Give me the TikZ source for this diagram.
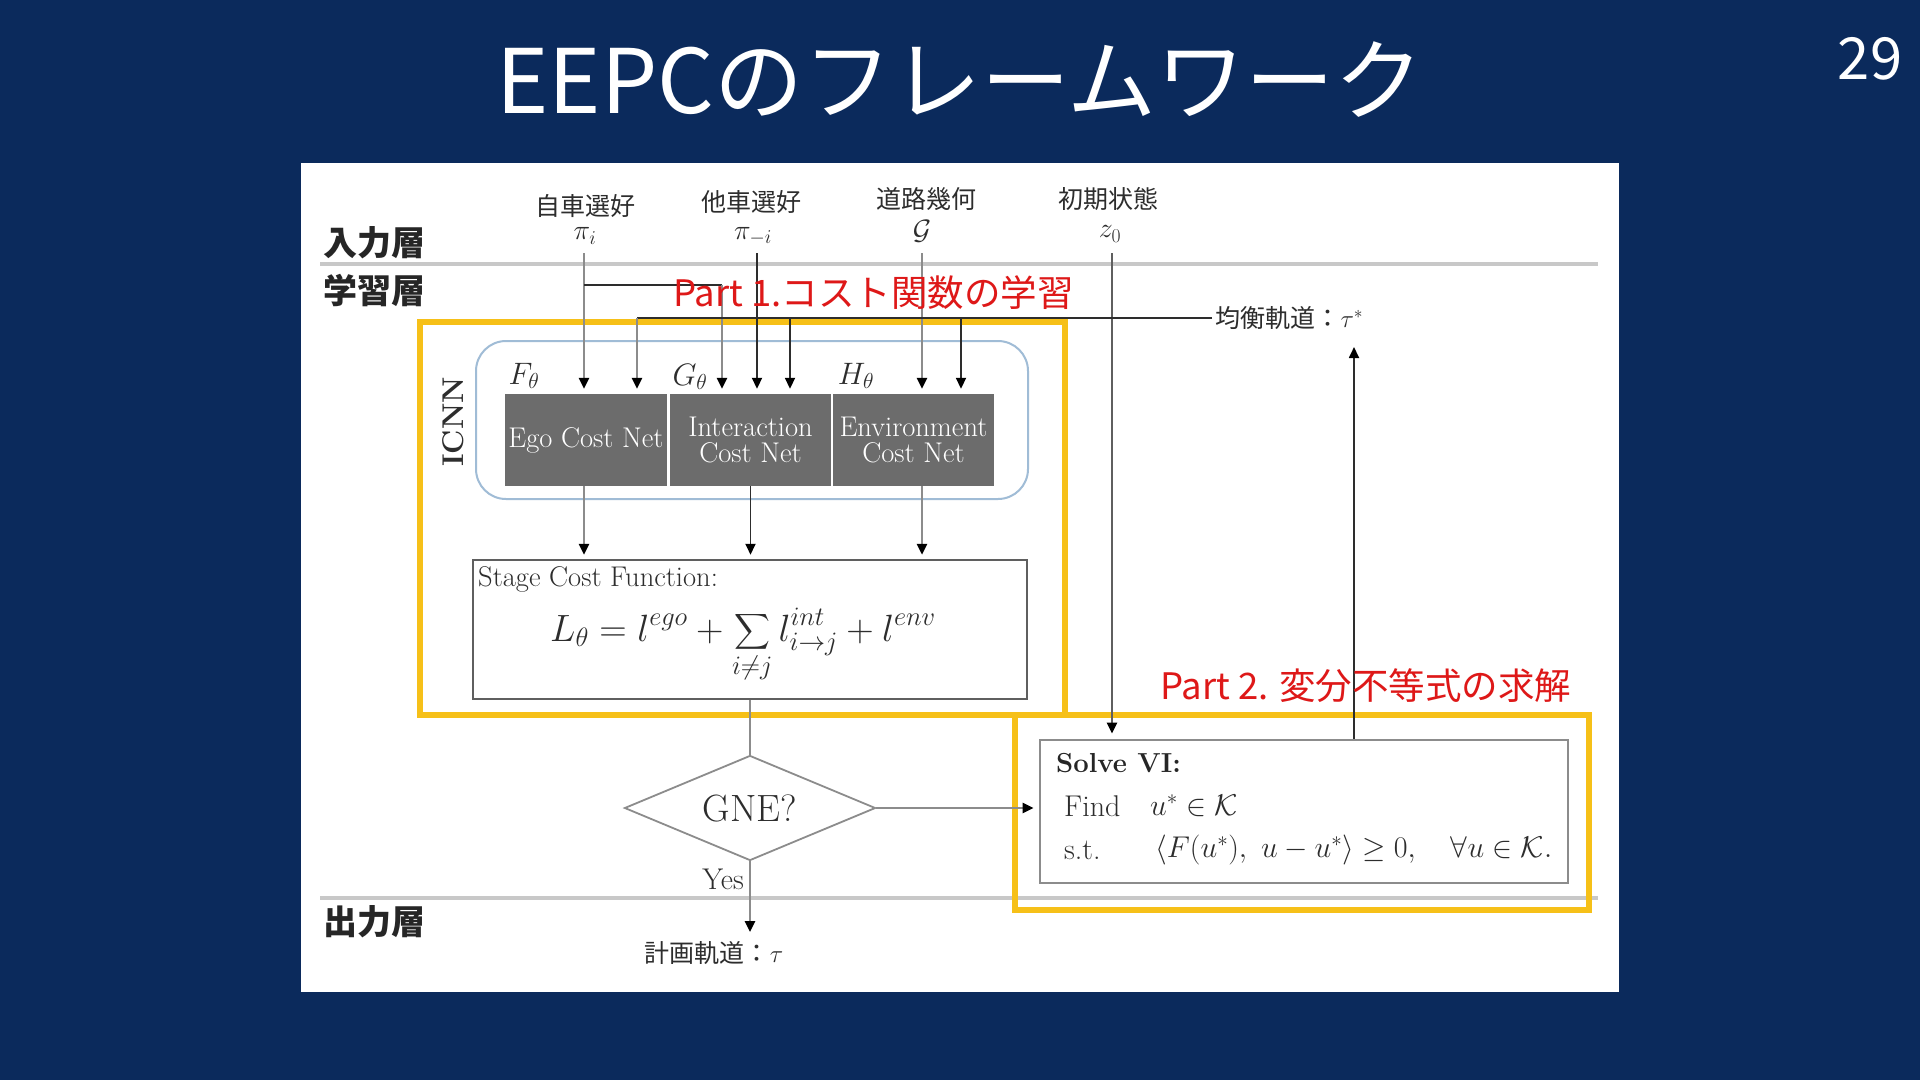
\RequirePackage{fix-cm}
\documentclass[tikz,border=0pt]{standalone}
\usepackage{amsmath}
\usepackage{fontspec}
\newfontfamily\jp{Noto Sans CJK JP}
\usetikzlibrary{arrows.meta,shapes.geometric}
\definecolor{navy}{RGB}{11,42,92}
\definecolor{gold}{RGB}{246,192,24}
\definecolor{redt}{RGB}{222,24,24}
\definecolor{boxgray}{RGB}{108,108,108}
\definecolor{lgray}{RGB}{140,140,140}
\definecolor{mgray}{RGB}{95,95,95}
\definecolor{dgray}{RGB}{45,45,45}
\definecolor{sepgray}{RGB}{200,200,200}
\definecolor{icblue}{RGB}{160,188,214}
\begin{document}
\begin{tikzpicture}[x=1pt,y=-1pt,
  gline/.style={draw=lgray,line width=2.6pt},
  dline/.style={draw=dgray,line width=1.8pt},
  mline/.style={draw=mgray,line width=2.2pt},
  arr/.style={-{Triangle[length=11pt,width=10pt,color=black]},shorten >=5pt},
  net/.style={fill=boxgray,text=white,minimum height=92pt,inner sep=0pt,align=center,font=\fontsize{28.5}{26}\selectfont},
  jlab/.style={font=\jp\fontsize{25}{28}\selectfont,text=dgray},
  mlab/.style={font=\fontsize{28}{28}\selectfont,text=dgray,inner sep=0pt},
  layer/.style={font=\jp\bfseries\fontsize{34}{36}\selectfont,text=black!85,anchor=west},
  redlab/.style={font=\jp\fontsize{36.5}{40}\selectfont,text=redt},
  hl/.style={draw=gold,line width=6pt},
  sep/.style={draw=sepgray,line width=4pt},
  txt/.style={inner sep=0pt,text=dgray}
]
% background and panel
\fill[navy] (0,0) rectangle (1920,1080);
\fill[white] (301,163) rectangle (1619,992);

% title and page number
\node[text=white,font=\jp\fontsize{89}{100}\selectfont] (title) at (960,80) {EEPCのフレームワーク};
\node[text=white,font=\jp\fontsize{58}{60}\selectfont] (pnum) at (1870,59) {29};

% layer labels and separators
\node[layer] (lay1) at (320,243) {入力層};
\node[layer] (lay2) at (320,291) {学習層};
\node[layer] (lay3) at (320,922) {出力層};
\draw[sep] (320,264) -- (1598,264);
\draw[sep] (320,898) -- (1598,898);

% input labels
\node[jlab] (in1) at (585,206) {自車選好};
\node[jlab] (in2) at (751,202) {他車選好};
\node[jlab] (in3) at (926,199) {道路幾何};
\node[jlab] (in4) at (1108,199) {初期状態};
\node[mlab] (pii) at (585,236) {$\pi_i$};
\node[mlab] (pimi) at (753,236) {$\pi_{-i}$};
\node[mlab] (geo) at (922,231) {$\mathcal{G}$};
\node[mlab] (z0) at (1110,234) {$z_0$};

% ICNN block
\node[draw=icblue,line width=2pt,rounded corners=30pt,minimum width=552pt,minimum height=158pt] (icnn) at (752,420) {};
\node[rotate=90,font=\bfseries\fontsize{30}{30}\selectfont,text=dgray] (icnnlab) at (453,422) {ICNN};
\node[net,minimum width=162pt] (ego) at (586,440) {Ego Cost Net};
\node[net,minimum width=161pt] (inter) at (750.5,440) {Interaction\\Cost Net};
\node[net,minimum width=161pt] (envn) at (913.5,440) {Environment\\Cost Net};
\node[font=\fontsize{31}{31}\selectfont,text=dgray] (F) at (524,376) {$F_\theta$};
\node[font=\fontsize{31}{31}\selectfont,text=dgray] (G) at (690,377) {$G_\theta$};
\node[font=\fontsize{31}{31}\selectfont,text=dgray] (H) at (856,376) {$H_\theta$};

% stage cost
\node[draw=mgray,line width=2.5pt,minimum width=554pt,minimum height=139pt] (stage) at (750,629.5) {};
\node[txt,anchor=west,font=\fontsize{28.5}{30}\selectfont] (stagelab) at (478,579) {Stage Cost Function:};
\node[txt,font=\fontsize{38}{40}\selectfont] (formula) at (743,645) {$\displaystyle L_\theta = l^{ego} + \sum_{i\neq j} l^{int}_{i\to j} + l^{env}$};

% GNE decision
\node[diamond,draw=lgray,line width=1.8pt,aspect=2.4,minimum width=251pt,minimum height=105pt,inner sep=0pt,font=\fontsize{38}{38}\selectfont,text=dgray] (gne) at (750,808) {GNE?};
\node[txt,anchor=east,font=\fontsize{30}{30}\selectfont] (yes) at (744,879) {Yes};
\node[jlab] (plan) at (714,953) {計画軌道：$\tau$};

% Solve VI
\node[draw=lgray,line width=2.8pt,minimum width=528pt,minimum height=143pt] (vi) at (1304,811.5) {};
\node[txt,anchor=west,font=\bfseries\fontsize{27.5}{28}\selectfont,text=black!85] (vititle) at (1056,763) {Solve VI:};
\node[txt,anchor=west,font=\fontsize{30}{30}\selectfont] (find) at (1064,806) {Find};
\node[txt,anchor=west,font=\fontsize{30}{30}\selectfont] (findm) at (1150,806) {$u^{*}\in\mathcal{K}$};
\node[txt,anchor=west,font=\fontsize{30}{30}\selectfont] (st) at (1064,850) {s.t.};
\node[txt,anchor=west,font=\fontsize{30}{30}\selectfont] (stm) at (1155,850) {$\langle F(u^{*}),\ u-u^{*}\rangle \geq 0,\quad \forall u\in\mathcal{K}.$};

% equilibrium trajectory label
\node[jlab,anchor=west] (tstar) at (1212,318) {均衡軌道：$\tau^{*}$};

% coordinates
\coordinate (s1) at (584,253);
\coordinate (s2) at (757,253);
\coordinate (s3) at (922,253);
\coordinate (s4) at (1112,253);
\coordinate (j1) at (584,285);
\coordinate (j2) at (722,285);
\coordinate (fb1) at (637,318);
\coordinate (fb2) at (790,318);
\coordinate (fb3) at (961,318);
\coordinate (upt) at (1354,347);
\coordinate (ptip) at (750,932);

% yellow highlight boxes
\draw[hl] (420,322) rectangle (1065,715);
\draw[hl] (1015,715) rectangle (1589,910);

% input connectors
\draw[gline,arr] (s1) -- (s1 |- ego.north);
\draw[dline] (j1) -- (j2);
\draw[gline,arr] (j2) -- (j2 |- inter.north);
\draw[dline,arr] (s2) -- (s2 |- inter.north);
\draw[gline,arr] (s3) -- (s3 |- envn.north);
\draw[mline,arr] (s4) -- (s4 |- vi.north);

% feedback connectors
\draw[dline] (tstar.west) -- (fb1);
\draw[gline,arr] (fb1) -- (fb1 |- ego.north);
\draw[dline,arr] (fb2) -- (fb2 |- inter.north);
\draw[dline,arr] (fb3) -- (fb3 |- envn.north);
\draw[dline,arr,shorten >=0pt] (upt |- vi.north) -- (upt);

% net outputs
\draw[gline,arr,shorten >=4pt] (s1 |- ego.south) -- (s1 |- stage.north);
\draw[dline,arr,shorten >=4pt] (inter.south) -- (inter.south |- stage.north);
\draw[gline,arr,shorten >=4pt] (s3 |- envn.south) -- (s3 |- stage.north);

% decision flow
\draw[gline] (stage.south) -- (gne.north);
\draw[gline,arr] (gne.east) -- (gne.east -| vi.west);
\draw[gline,arr,shorten >=0pt] (gne.south) -- (ptip);

% red labels
\node[redlab,anchor=west] (p1) at (670,293) {Part 1.コスト関数の学習};
\node[redlab,anchor=east] (p2) at (1575,686) {Part 2. 変分不等式の求解};
\end{tikzpicture}
\end{document}
